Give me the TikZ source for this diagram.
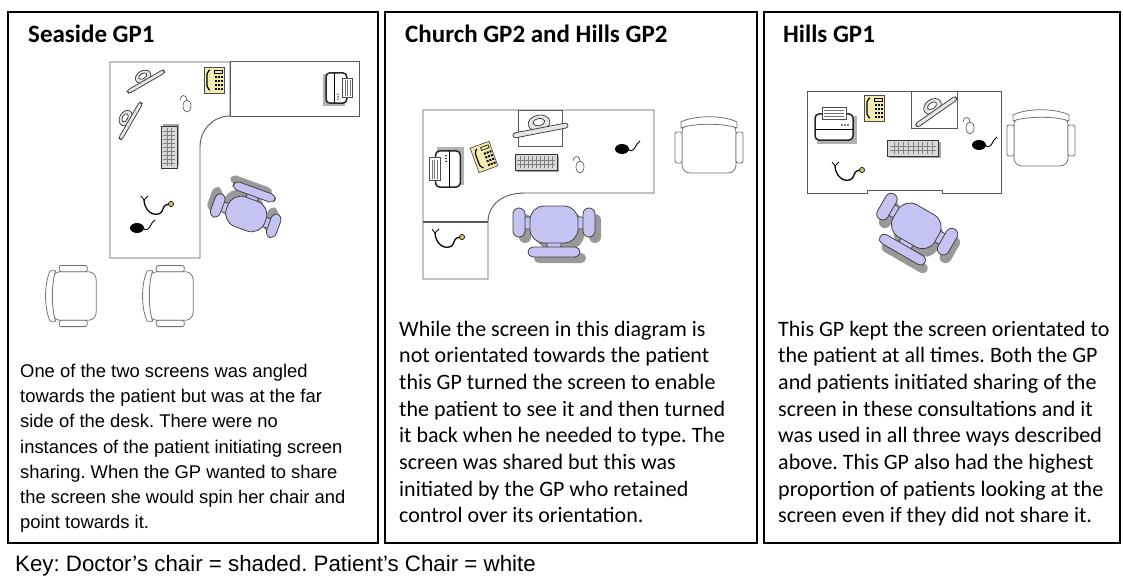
\documentclass[tikz,border=0pt]{standalone}
\usepackage{fontspec}
\setmainfont{Carlito}
\newfontfamily\arialfont{Liberation Sans}

\definecolor{chairblue}{RGB}{196,196,242}
\definecolor{phoneyellow}{RGB}{243,236,176}

\tikzset{
  chairdoc/.style={fill=chairblue, draw=black!75, line width=0.8pt},
  chairshade/.style={fill=black!40, draw=none},
  chairpat/.style={fill=white, draw=black!55, line width=0.8pt},
  kit/.style={fill=black!10, draw=black!80, line width=0.7pt},
  pics/docchair/.style={code={
    \foreach \d/\s in {6/chairshade, 0/chairdoc}{
      \begin{scope}[shift={(\d,\d)}]
        \path[\s, rounded corners=3] (-7,12) rectangle (7,22);
        \path[\s, rounded corners=5] (-26,20) rectangle (26,30);
        \path[\s, rounded corners=3] (-31,-10) rectangle (31,2);
        \path[\s, rounded corners=6] (-41,-19) rectangle (-29,10);
        \path[\s, rounded corners=6] (29,-19) rectangle (41,10);
        \path[\s, rounded corners=14] (-24,-21) rectangle (24,16);
      \end{scope}
    }
  }},
  pics/patchair/.style={code={
    \path[chairpat, rounded corners=8] (-27,-21) rectangle (27,28);
    \path[chairpat] (-28,-17) -- (-28,-23) .. controls (-15,-30) and (15,-30) .. (28,-23) -- (28,-17) .. controls (15,-22) and (-15,-22) .. (-28,-17) -- cycle;
    \path[chairpat, rounded corners=2] (-34,-13) rectangle (-27,18);
    \path[chairpat, rounded corners=2] (27,-13) rectangle (34,18);
  }},
  pics/screen/.style={code={
    \path[kit] (0,-5) ellipse [x radius=11, y radius=8];
    \path[kit, fill=white] (0,-6) ellipse [x radius=6, y radius=3.5];
    \path[kit, rounded corners=2.5] (-28,0) rectangle (28,5);
  }},
  pics/keyboard/.style={code={
    \fill[black!35] (-19,-6) rectangle (23,10);
    \path[kit, fill=black!15, line width=1pt] (-21,-8) rectangle (21,8);
    \foreach \k in {-16,-12,...,16} \draw[black!50, line width=0.4pt] (\k,-6) -- (\k,6);
    \draw[black!50, line width=0.4pt] (-19,-2) -- (19,-2) (-19,2) -- (19,2);
  }},
  pics/phone/.style={code={
    \path[fill=phoneyellow, draw=black!70, line width=0.7pt] (-10,-13) rectangle (10,13);
    \draw[line width=1.2pt, rounded corners=2] (-4,-10) -- (-7,-8) -- (-7,8) -- (-4,10);
    \foreach \r in {-4,0,4,8} \foreach \c in {1,4,7} \fill[black] (\c,\r) rectangle ++(2,2);
    \draw[line width=0.6pt] (0,-10) rectangle (8,-7);
  }},
  pics/printer/.style={code={
    \fill[black!30] (-17,-9) rectangle (23,19);
    \path[fill=white, draw=black!85, line width=1.5pt, rounded corners=4] (-19,-11) rectangle (19,15);
    \path[fill=white, draw=black!70, line width=0.7pt] (-12,-18) rectangle (12,-6);
    \foreach \p in {-15,-12,-9} \draw[black!55] (-10,\p) -- (10,\p);
    \draw[line width=1pt] (-19,4) -- (19,4);
    \foreach \b in {8,11,14} \fill (\b,0) circle (0.9);
  }},
  pics/mouse/.style={code={
    \draw[black!70, line width=0.6pt] (0,-5) .. controls (0,-11) and (-7,-11) .. (-7,-5);
    \path[fill=white, draw=black!70, line width=0.6pt] (0,1) ellipse [x radius=4, y radius=6];
  }},
  pics/steth/.style={code={
    \draw[line width=1.3pt] (-13,-8) .. controls (-12,8) and (4,10) .. (6,1) .. controls (7,-3) and (10,-4) .. (13,-4);
    \draw[line width=0.8pt] (-13,-8) -- (-16,-12) (-13,-8) -- (-9,-12);
    \path[fill=olive!50, draw=black, line width=0.6pt] (14,-4) circle (2.6);
  }},
  pics/bpcuff/.style={code={
    \fill[black] (-3,0) ellipse [x radius=7, y radius=5];
    \draw[line width=0.9pt] (3,0) .. controls (8,5) and (10,-2) .. (12,-5) -- (15,-8);
  }},
}

\begin{document}
\frenchspacing
\begin{tikzpicture}[x=1pt, y=-1pt,
  panel/.style={draw, line width=2.6pt},
  deskline/.style={draw=black!65, line width=0.9pt, fill=white},
  title/.style={font=\fontsize{25}{30}\selectfont\bfseries, anchor=base west, inner sep=0pt},
  note/.style={font=\fontsize{22}{26.7}\selectfont, anchor=base west, align=left, inner sep=0pt},
  arialnote/.style={font=\arialfont\fontsize{18.4}{25.2}\selectfont, anchor=base west, align=left, inner sep=0pt}]
\useasboundingbox (0,0) rectangle (1123,575);

% the three panels
\draw[panel] (8,12) rectangle (378,543);
\draw[panel] (385,12) rectangle (757,543);
\draw[panel] (764,12) rectangle (1120,543);

\node[title] (seaside) at (28,43) {Seaside GP1};
\node[title] (church) at (405,43) {Church GP2 and Hills GP2};
\node[title] (hills) at (783,43) {Hills GP1};

% Seaside GP1
\draw[deskline] (110,62) -- (230,62) -- (230,116) .. controls (213,116) and (200,130) .. (200,147) -- (200,258) -- (110,258) -- cycle;
\draw[deskline] (230,61) rectangle (359,116);
\pic[rotate=30, scale=0.75] at (145,80) {screen};
\pic[rotate=60, scale=0.75] at (129,120) {screen};
\pic at (214,80) {phone};
\pic at (187,105) {mouse};
\pic[rotate=90] at (169,147) {keyboard};
\pic[rotate=-90, scale=0.8] at (338,88) {printer};
\pic at (157,208) {steth};
\pic at (140,228) {bpcuff};
\pic[rotate=160, scale=0.85] at (247,212) {docchair};
\pic[rotate=90, scale=0.9] at (71,296) {patchair};
\pic[rotate=90, scale=0.9] at (168,296) {patchair};

% Church GP2 and Hills GP2
\draw[deskline] (423,110) -- (654,110) -- (654,193) -- (525,193) .. controls (502,193) and (488,205) .. (488,222) -- (488,279) -- (423,279) -- cycle;
\draw[deskline, line width=1.3pt] (423,222) -- (488,222);
\draw[deskline] (518,110) rectangle (562,146);
\pic[rotate=11] at (540,128) {screen};
\pic[rotate=90, scale=0.95] at (446,169) {printer};
\pic[rotate=20] at (484,157) {phone};
\pic at (536,162) {keyboard};
\pic at (580,166) {mouse};
\pic at (625,149) {bpcuff};
\pic at (448,241) {steth};
\pic at (554,227) {docchair};
\pic at (709,145) {patchair};

% Hills GP1
\draw[deskline] (807,91) rectangle (1001,190);
\draw[deskline] (807,190) -- (807,193) -- (867,193) -- (867,190);
\draw[deskline] (942,190) -- (942,193) -- (1001,193) -- (1001,190);
\draw[deskline] (911,91) rectangle (957,128);
\pic[rotate=35, scale=0.87] at (935,110) {screen};
\pic at (834,125) {printer};
\pic at (874,108) {phone};
\pic[xscale=1.2] at (913,148) {keyboard};
\pic at (970,127) {mouse};
\pic at (982,145) {bpcuff};
\pic at (848,174) {steth};
\pic[rotate=-30] at (915,228) {docchair};
\pic at (1041,138) {patchair};

% texts (anchored at the baseline of the last line)
\node[arialnote] (seasidetext) at (20,528.7) {One of the two screens was angled\\
towards the patient but was at the far\\
side of the desk. There were no\\
instances of the patient initiating screen\\
sharing. When the GP wanted to share\\
the screen she would spin her chair and\\
point towards it.};
\node[note] (churchtext) at (399,522.9) {While the screen in this diagram is\\
not orientated towards the patient\\
this GP turned the screen to enable\\
the patient to see it and then turned\\
it back when he needed to type. The\\
screen was shared but this was\\
initiated by the GP who retained\\
control over its orientation.};
\node[note] (hillstext) at (778,522.9) {This GP kept the screen orientated to\\
the patient at all times. Both the GP\\
and patients initiated sharing of the\\
screen in these consultations and it\\
was used in all three ways described\\
above. This GP also had the highest\\
proportion of patients looking at the\\
screen even if they did not share it.};
\node[font=\arialfont\fontsize{22.3}{26}\selectfont, anchor=base west, inner sep=0pt] (key) at (15,571) {Key: Doctor’s chair = shaded. Patient’s Chair = white};
\end{tikzpicture}
\end{document}
